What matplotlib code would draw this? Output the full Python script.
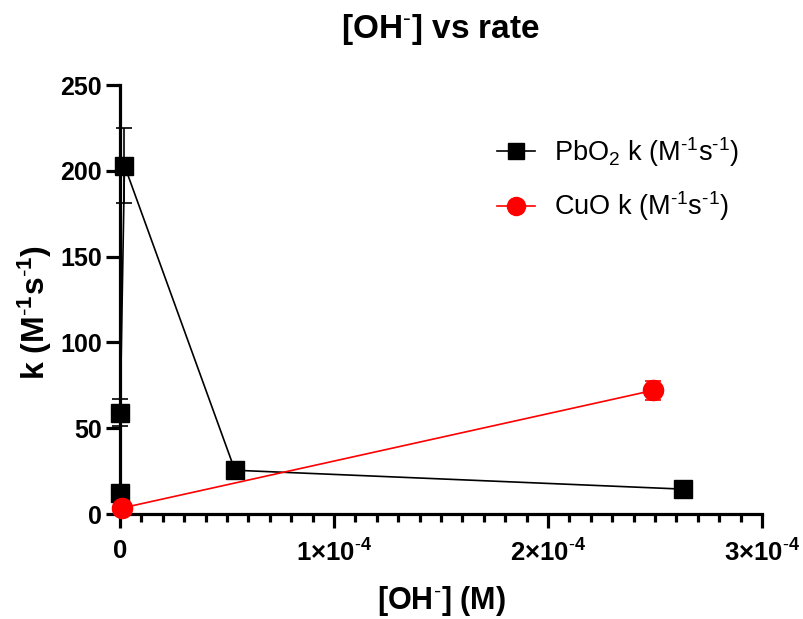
import matplotlib
matplotlib.use("Agg")
import matplotlib.pyplot as plt
from matplotlib.ticker import MultipleLocator, FixedLocator
from matplotlib.lines import Line2D

plt.rcParams['font.family'] = ['Liberation Sans', 'DejaVu Sans']
plt.rcParams['mathtext.fontset'] = 'custom'
plt.rcParams['mathtext.rm'] = 'Liberation Sans'
plt.rcParams['mathtext.it'] = 'Liberation Sans'
plt.rcParams['mathtext.bf'] = 'Liberation Sans:bold'

# Data
pbo2_x = [1e-8, 1e-7, 2.1e-6, 5.37e-5, 2.63e-4]
pbo2_k = [12, 59, 203, 25.5, 14.5]
pbo2_err = [1.5, 8, 22, 1.5, 1.5]

cuo_x = [1e-6, 2.49e-4]
cuo_k = [3.5, 72]
cuo_err = [1.0, 5.5]

x_ticks = [0, 1e-4, 2e-4, 3e-4]
x_tick_labels = ['0', r'1$\mathbf{\times}$10$^{\text{-}\mathbf{4}}$',
                 r'2$\mathbf{\times}$10$^{\text{-}\mathbf{4}}$',
                 r'3$\mathbf{\times}$10$^{\text{-}\mathbf{4}}$']
y_ticks = [0, 50, 100, 150, 200, 250]

fig = plt.figure(figsize=(8.04, 6.19), dpi=100)
ax = fig.add_axes([120/804, (619-514)/619, 642/804, 429/619])

ax.errorbar(pbo2_x, pbo2_k, yerr=pbo2_err, color='black', marker='s', markersize=13,
            linewidth=1.2, elinewidth=1.2, capsize=6, capthick=1.2, clip_on=False, zorder=3)
ax.errorbar(cuo_x, cuo_k, yerr=cuo_err, color='red', marker='o', markersize=14.5,
            linewidth=1.2, elinewidth=1.2, capsize=6, capthick=1.2, clip_on=False, zorder=4)

ax.set_xlim(0, 3e-4)
ax.set_ylim(0, 250)
ax.xaxis.set_major_locator(FixedLocator(x_ticks))
ax.set_xticklabels(x_tick_labels)
ax.xaxis.set_minor_locator(MultipleLocator(1e-5))
ax.set_yticks(y_ticks)

for s in ['top', 'right']:
    ax.spines[s].set_visible(False)
for s in ['left', 'bottom']:
    ax.spines[s].set_linewidth(2.3)

ax.tick_params(axis='y', which='major', width=2.3, length=10, labelsize=18, pad=3)
ax.tick_params(axis='x', which='major', width=2.3, length=10, labelsize=18.5, pad=8)
ax.tick_params(axis='x', which='minor', width=2.3, length=6)
for lab in ax.get_xticklabels() + ax.get_yticklabels():
    lab.set_fontweight('bold')

ax.set_xlabel(r'[OH$^{\text{-}}$] (M)', fontsize=22, fontweight='bold')
ax.xaxis.set_label_coords(0.5, -0.163)
ax.set_ylabel(r'k (M$^{\text{-}\mathbf{1}}$s$^{\text{-}\mathbf{1}}$)', fontsize=23, fontweight='bold')
ax.yaxis.set_label_coords(-0.103, 0.47)
fig.text(0.548, 0.952, r'[OH$^{\text{-}}$] vs rate', fontsize=24, fontweight='bold',
         ha='center', va='center')

handles = [
    Line2D([], [], color='black', marker='s', markersize=12, linewidth=1.2),
    Line2D([], [], color='red', marker='o', markersize=13, linewidth=1.2),
]
labels = [r'PbO$_2$ k (M$^{\text{-}1}$s$^{\text{-}1}$)', r'CuO k (M$^{\text{-}1}$s$^{\text{-}1}$)']
ax.legend(handles, labels, loc='upper left', bbox_to_anchor=(0.55, 0.94), frameon=False,
          fontsize=19.5, handlelength=1.4, labelspacing=0.75, handletextpad=0.7)

fig.savefig('out.png', dpi=100)
